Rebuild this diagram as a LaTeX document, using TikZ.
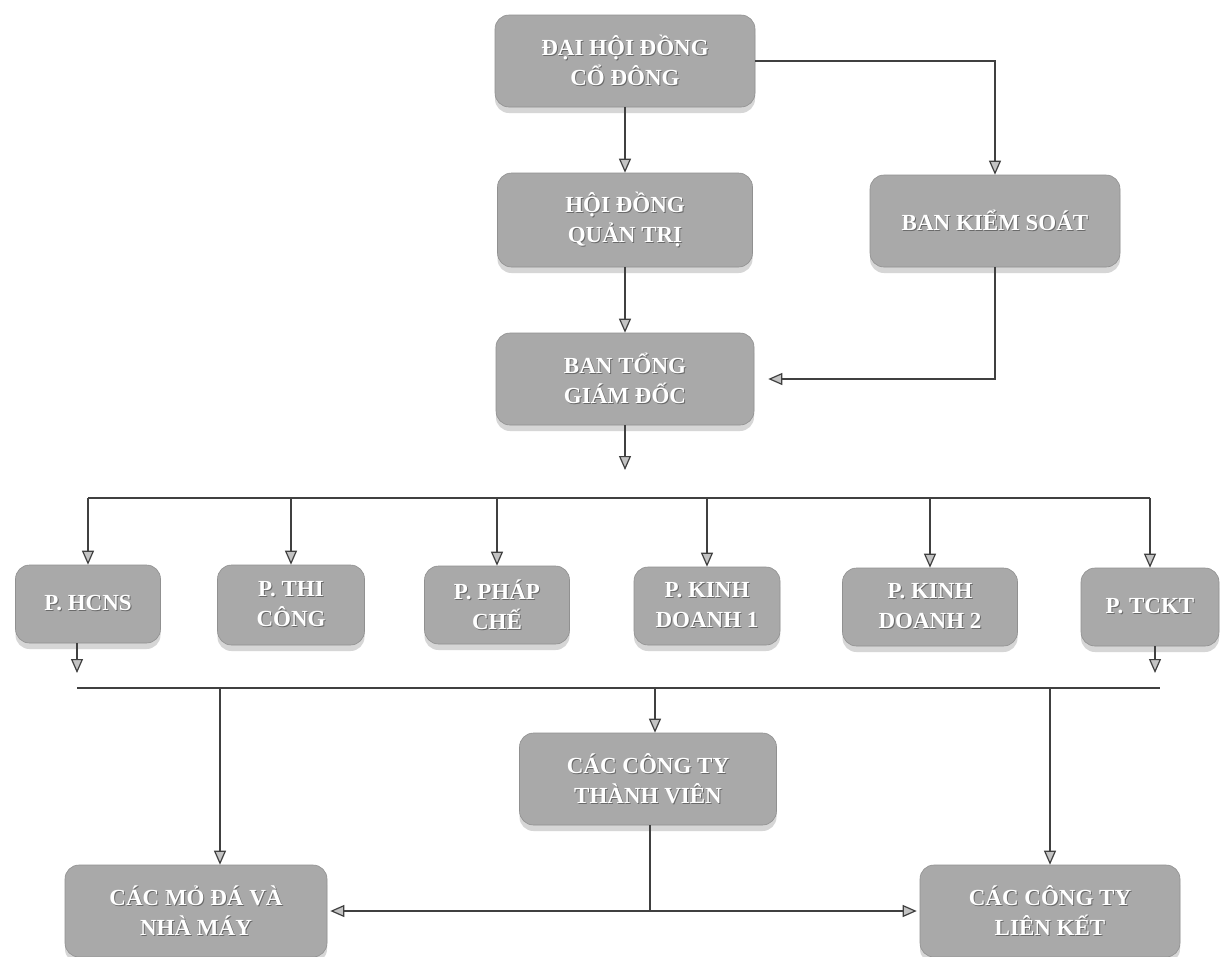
\documentclass[tikz,border=0pt]{standalone}
\usepackage{fontspec}
\setmainfont{Liberation Serif}
\usetikzlibrary{arrows.meta, shadows}
\definecolor{orgBox}{HTML}{A9A9A9}
\definecolor{orgLine}{HTML}{404040}
\definecolor{orgShade}{HTML}{D6D6D6}
\definecolor{orgInk}{HTML}{6A6A6A}
\newcommand{\emb}[1]{\leavevmode\rlap{\hspace{1pt}\raisebox{-1pt}{\textcolor{orgInk}{#1}}}\textcolor{white}{#1}}

\begin{document}
\begin{tikzpicture}[x=1pt,y=-1pt,
  unit/.style={draw=orgBox!85!black, line width=0.6pt, fill=orgBox, rounded corners=14pt,
    inner sep=0pt, align=center, font=\fontsize{23}{30}\selectfont\bfseries,
    drop shadow={shadow xshift=0pt, shadow yshift=-6pt, fill=orgShade, opacity=1}},
  link/.style={orgLine, line width=1.2pt},
  feed/.style={link, -{Triangle[length=14pt,width=12pt,fill=orgBox!70]}}]
\useasboundingbox (0,0) rectangle (1221,956);
\fill[white] (0,0) rectangle (1221,956);

% upper levels
\node[unit, minimum width=260pt, minimum height=92pt] (dhcd) at (625,61) {\emb{ĐẠI HỘI ĐỒNG}\\\emb{CỔ ĐÔNG}};
\node[unit, minimum width=255pt, minimum height=94pt] (hdqt) at (625,220) {\emb{HỘI ĐỒNG}\\\emb{QUẢN TRỊ}};
\node[unit, minimum width=250pt, minimum height=92pt] (bks) at (995,221) {\emb{BAN KIỂM SOÁT}};
\node[unit, minimum width=258pt, minimum height=92pt] (btgd) at (625,379) {\emb{BAN TỔNG}\\\emb{GIÁM ĐỐC}};

% departments
\node[unit, minimum width=145pt, minimum height=78pt] (hcns) at (88,604) {\emb{P. HCNS}};
\node[unit, minimum width=147pt, minimum height=80pt] (thicong) at (291,605) {\emb{P. THI}\\\emb{CÔNG}};
\node[unit, minimum width=145pt, minimum height=78pt] (phapche) at (497,605) {\emb{P. PHÁP}\\\emb{CHẾ}};
\node[unit, minimum width=146pt, minimum height=78pt] (kd1) at (707,606) {\emb{P. KINH}\\\emb{DOANH 1}};
\node[unit, minimum width=175pt, minimum height=78pt] (kd2) at (930,607) {\emb{P. KINH}\\\emb{DOANH 2}};
\node[unit, minimum width=138pt, minimum height=78pt] (tckt) at (1150,607) {\emb{P. TCKT}};

% subsidiaries
\node[unit, minimum width=257pt, minimum height=92pt] (cctv) at (648,779) {\emb{CÁC CÔNG TY}\\\emb{THÀNH VIÊN}};
\node[unit, minimum width=262pt, minimum height=92pt] (cmda) at (196,911) {\emb{CÁC MỎ ĐÁ VÀ}\\\emb{NHÀ MÁY}};
\node[unit, minimum width=260pt, minimum height=92pt] (cclk) at (1050,911) {\emb{CÁC CÔNG TY}\\\emb{LIÊN KẾT}};

\coordinate (hub) at (625,470);
\coordinate (busL) at (88,498);
\coordinate (busR) at (1150,498);
\coordinate (hcnsEnd) at (77,673);
\coordinate (tcktEnd) at (1155,673);
\coordinate (bus2L) at (77,688);
\coordinate (bus2R) at (1160,688);
\coordinate (fork) at (650,911);

\draw[feed] (dhcd) -- (hdqt);
\draw[feed] (hdqt) -- (btgd);
\draw[feed] (dhcd.east) -| (bks.north);
\draw[feed, shorten >=14pt] (bks.south) |- (btgd.east);
\draw[feed] (btgd) -- (hub);

\draw[link] (busL) -- (busR);
\foreach \n in {hcns,thicong,phapche,kd1,kd2,tckt}
  \draw[feed] (\n |- busL) -- (\n);

\draw[feed] (hcns.south -| hcnsEnd) -- (hcnsEnd);
\draw[feed] (tckt.south -| tcktEnd) -- (tcktEnd);
\draw[link] (bus2L) -- (bus2R);
\draw[feed] (bus2L -| 220,0) -- (cmda.north -| 220,0);
\draw[feed] (bus2L -| 655,0) -- (cctv.north -| 655,0);
\draw[feed] (bus2L -| cclk) -- (cclk);

\draw[link] (cctv.south -| fork) -- (fork);
\draw[feed, shorten >=3pt] (fork) -- (cmda);
\draw[feed, shorten >=3pt] (fork) -- (cclk);
\end{tikzpicture}
\end{document}
